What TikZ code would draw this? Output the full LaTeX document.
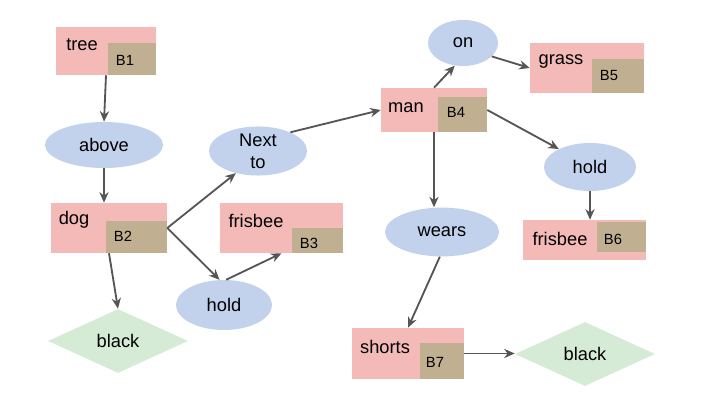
\documentclass[tikz,border=0pt]{standalone}
\usepackage{fontspec}
\setmainfont{Liberation Sans}
\usetikzlibrary{arrows.meta,fit,shapes.geometric}

\definecolor{boxpink}{RGB}{244,186,184}
\definecolor{boxtan}{RGB}{192,176,145}
\definecolor{relblue}{RGB}{194,210,236}
\definecolor{attrgreen}{RGB}{214,235,214}
\definecolor{arrowgray}{RGB}{85,85,85}

\begin{document}
\begin{tikzpicture}[x=0.025cm, y=-0.025cm,
    obj/.style={fill=boxpink, inner sep=0pt},
    tag/.style={fill=boxtan, inner sep=0pt},
    word/.style={font=\fontsize{13}{15.6}\selectfont, inner sep=0pt},
    bid/.style={font=\fontsize{10.5}{12}\selectfont, inner sep=0pt},
    rel/.style={ellipse, fill=relblue, inner sep=0pt, align=center, font=\fontsize{13}{15.6}\selectfont},
    attr/.style={diamond, fill=attrgreen, inner sep=0pt, minimum width=3.5cm, minimum height=1.6cm, font=\fontsize{13}{15.6}\selectfont},
    link/.style={draw=arrowgray, line width=1.3pt, -{Stealth[length=7.5pt,width=6.5pt]}}]
        \useasboundingbox (0,0) rectangle (720,405);
        % objects
        \node[obj, fit={(56,27) (156,75)}] (tree) {};
        \node[tag, fit={(108,43) (156,75)}] (treeb) {};
        \node[word] (treet) at (82,45) {tree};
        \node[bid] (treeid) at (125,60) {B1};
        \node[obj, fit={(51,203) (167,253)}] (dog) {};
        \node[tag, fit={(106,221) (167,253)}] (dogb) {};
        \node[word] (dogt) at (74,220) {dog};
        \node[bid] (dogid) at (123,236) {B2};
        \node[obj, fit={(220,203) (343,253)}] (frisa) {};
        \node[tag, fit={(292,228) (343,253)}] (frisab) {};
        \node[word] (frisat) at (256,221) {frisbee};
        \node[bid] (frisaid) at (309,243) {B3};
        \node[obj, fit={(381,88) (487,132)}] (man) {};
        \node[tag, fit={(438,97) (487,132)}] (manb) {};
        \node[word] (mant) at (406,108) {man};
        \node[bid] (manid) at (456,112) {B4};
        \node[obj, fit={(530,43) (644,93)}] (grass) {};
        \node[tag, fit={(592,59) (644,93)}] (grassb) {};
        \node[word] (grasst) at (561,61) {grass};
        \node[bid] (grassid) at (609,75) {B5};
        \node[obj, fit={(523,220) (646,260)}] (frisb) {};
        \node[tag, fit={(597,222) (646,252)}] (frisbb) {};
        \node[word] (frisbt) at (560,239) {frisbee};
        \node[bid] (frisbid) at (613,239) {B6};
        \node[obj, fit={(352,328) (464,379)}] (shorts) {};
        \node[tag, fit={(420,343) (464,379)}] (shortsb) {};
        \node[word] (shortst) at (385,347) {shorts};
        \node[bid] (shortsid) at (435,362) {B7};
        % relations
        \node[rel, minimum width=2.95cm, minimum height=1.15cm] (above) at (104,145) {above};
        \node[rel, minimum width=2.45cm, minimum height=1.2cm] (next) at (258,151) {Next\\to};
        \node[rel, minimum width=2.4cm, minimum height=1.25cm] (holda) at (224,305) {hold};
        \node[rel, minimum width=1.75cm, minimum height=1.15cm] (on) at (463,43) {on};
        \node[rel, minimum width=2.3cm, minimum height=1.2cm] (holdb) at (590,167) {hold};
        \node[rel, minimum width=2.85cm, minimum height=1.22cm] (wears) at (442,232) {wears};
        % attributes
        \node[attr] (blacka) at (118,341) {black};
        \node[attr] (blackb) at (585,354) {black};
        % edges
        \path[link] (tree.south) to (above.north);
        \path[link] (above.south) to (above.south |- dog.north);
        \path[link] (dog.east) to (next.225);
        \path[link] (dog.east) to (holda.100);
        \path[link] (holda.85) to (frisa.south);
        \path[link] (dog.south) to (blacka.north);
        \path[link] (next.30) to (man.west);
        \path[link] (man.north) to (on.250);
        \path[link] (on.-25) to (grass.west);
        \path[link] (man.east) to (holdb.150);
        \path[link] (man.south) to (man.south |- wears.north);
        \path[link] (holdb.south) to (holdb.south |- frisb.north);
        \path[link] (wears.265) to (shorts.north);
        \path[link] (shorts.east) to (shorts.east -| blackb.west);
\end{tikzpicture}
\end{document}
